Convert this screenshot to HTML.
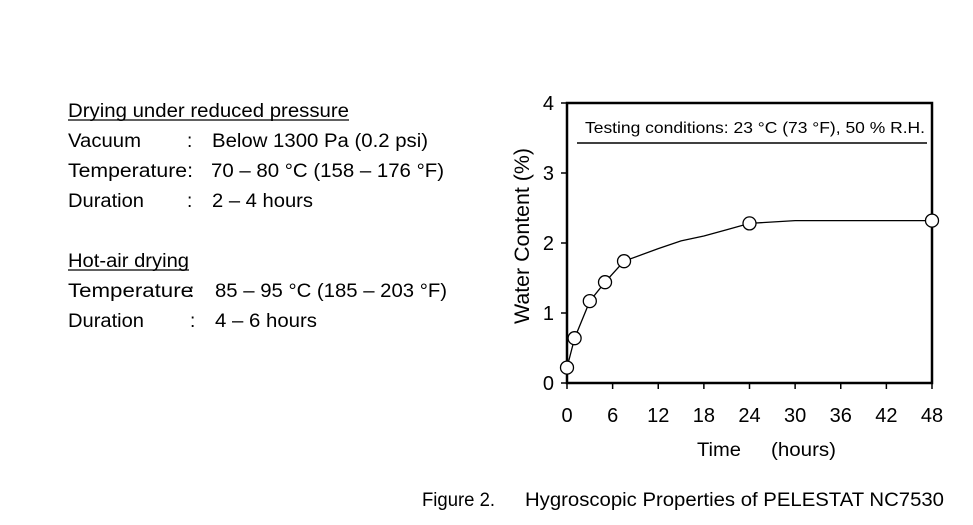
<!DOCTYPE html>
<html><head><meta charset="utf-8"><style>
html,body{margin:0;padding:0;background:#fff;}
svg{display:block;font-family:"Liberation Sans",Arial,sans-serif;}
</style></head><body>
<svg width="973" height="525" viewBox="0 0 973 525">
<g font-size="19" fill="#000">
<text x="68" y="117" textLength="281" lengthAdjust="spacingAndGlyphs">Drying under reduced pressure</text>
<line x1="68" y1="120" x2="349" y2="120" stroke="#000" stroke-width="1.2"/>
<text x="68" y="147" textLength="73" lengthAdjust="spacingAndGlyphs">Vacuum</text>
<text x="187" y="147">:</text>
<text x="212" y="147" textLength="216" lengthAdjust="spacingAndGlyphs">Below 1300 Pa (0.2 psi)</text>
<text x="68" y="177" textLength="125" lengthAdjust="spacingAndGlyphs">Temperature:</text>
<text x="211" y="177" textLength="233" lengthAdjust="spacingAndGlyphs">70 – 80 °C (158 – 176 °F)</text>
<text x="68" y="207" textLength="76" lengthAdjust="spacingAndGlyphs">Duration</text>
<text x="187" y="207">:</text>
<text x="212" y="207" textLength="101" lengthAdjust="spacingAndGlyphs">2 – 4 hours</text>
<text x="68" y="267" textLength="121" lengthAdjust="spacingAndGlyphs">Hot-air drying</text>
<line x1="68" y1="270" x2="189" y2="270" stroke="#000" stroke-width="1.2"/>
<text x="68" y="297" textLength="125" lengthAdjust="spacingAndGlyphs">Temperature</text>
<text x="189" y="297">:</text>
<text x="215" y="297" textLength="232" lengthAdjust="spacingAndGlyphs">85 – 95 °C (185 – 203 °F)</text>
<text x="68" y="327" textLength="76" lengthAdjust="spacingAndGlyphs">Duration</text>
<text x="190" y="327">:</text>
<text x="215" y="327" textLength="102" lengthAdjust="spacingAndGlyphs">4 – 6 hours</text>
</g>
<g id="chart"></g>
<text x="422" y="506" font-size="19" textLength="73" lengthAdjust="spacingAndGlyphs">Figure 2.</text>
<text x="525" y="506" font-size="19" textLength="419" lengthAdjust="spacingAndGlyphs">Hygroscopic Properties of PELESTAT NC7530</text>
</svg>
<script>
const xTicks = [0, 6, 12, 18, 24, 30, 36, 42, 48];
const yTicks = [0, 1, 2, 3, 4];
const pointHours = [0, 1, 3, 5, 7.5, 24, 48];
const pointValues = [0.22, 0.64, 1.17, 1.44, 1.74, 2.28, 2.32];
const curveHours = [0, 1, 3, 5, 7.5, 12, 15, 18, 21, 24, 30, 48];
const curveValues = [0.22, 0.64, 1.17, 1.44, 1.74, 1.92, 2.03, 2.10, 2.19, 2.28, 2.32, 2.32];

const NS = "http://www.w3.org/2000/svg";
const L = 567, R = 932, T = 103, B = 383;
const sx = h => L + (h / 48) * (R - L);
const sy = v => B - (v / 4) * (B - T);
const g = document.getElementById('chart');
function mk(tag, attrs, parent) {
  const e = document.createElementNS(NS, tag);
  for (const k in attrs) e.setAttribute(k, attrs[k]);
  (parent || g).appendChild(e);
  return e;
}
const frame = mk('rect', {x: L, y: T, width: R - L, height: B - T, fill: 'none', stroke: '#000', 'stroke-width': 2.5});


yTicks.forEach(v => {
  const t = mk('line', {x1: L - 6, x2: L, y1: sy(v), y2: sy(v), stroke: '#000', 'stroke-width': 1.5});
  
  
  const lb = mk('text', {x: L - 13, y: sy(v) + 7, 'text-anchor': 'end', 'font-size': 20});
  lb.textContent = v;
  
  
});
xTicks.forEach(h => {
  const t = mk('line', {x1: sx(h), x2: sx(h), y1: B, y2: B + 6, stroke: '#000', 'stroke-width': 1.5});
  
  
  const lb = mk('text', {x: sx(h), y: B + 39, 'text-anchor': 'middle', 'font-size': 20});
  lb.textContent = h;
  
  
});
const yt = mk('text', {x: 0, y: 0, 'font-size': 21, 'text-anchor': 'middle', textLength: 176, lengthAdjust: 'spacingAndGlyphs', transform: 'translate(529,236) rotate(-90)'});
yt.textContent = 'Water Content (%)';


const xt = mk('text', {x: 697, y: 456, 'font-size': 19, textLength: 44, lengthAdjust: 'spacingAndGlyphs'});
xt.textContent = 'Time';


const xu = mk('text', {x: 771, y: 456, 'font-size': 19, textLength: 65, lengthAdjust: 'spacingAndGlyphs'});
xu.textContent = '(hours)';


const note = mk('text', {x: 585, y: 133, 'font-size': 16, textLength: 340, lengthAdjust: 'spacingAndGlyphs'});
note.textContent = 'Testing conditions: 23 °C (73 °F), 50 % R.H.';


const nl = mk('line', {x1: 577, x2: 927, y1: 143, y2: 143, stroke: '#000', 'stroke-width': 1.5});


const path = mk('polyline', {points: curveHours.map((h, i) => sx(h) + ',' + sy(curveValues[i])).join(' '), fill: 'none', stroke: '#000', 'stroke-width': 1.3});


pointHours.forEach((h, i) => {
  const c = mk('circle', {cx: sx(h), cy: sy(pointValues[i]), r: 6.5, fill: '#fff', stroke: '#000', 'stroke-width': 1.3});
  
  
});
</script>
</body></html>
